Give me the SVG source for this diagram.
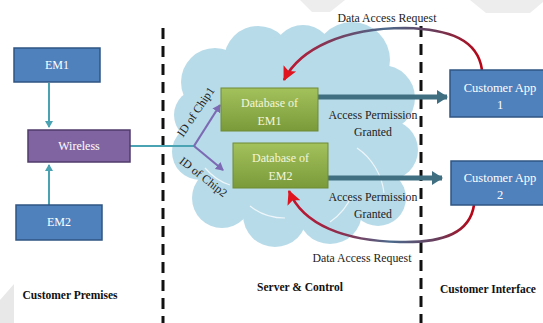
<svg xmlns="http://www.w3.org/2000/svg" width="543" height="323" viewBox="0 0 543 323">
<defs>
<style>
.box{stroke-width:1.5}
.em{fill:#4f81bd;stroke:#2f5584}
.wl{fill:#8064a2;stroke:#4f3b6b}
.db{fill:url(#gGreen);stroke:#6f8a35;stroke-width:1}
.app{fill:#4f81bd;stroke:#2f5584}
.wt{font-family:"Liberation Serif","Times New Roman",serif;font-size:12px;fill:#ffffff;text-anchor:middle}
.dbt{font-family:"Liberation Serif","Times New Roman",serif;font-size:12px;fill:#f4f6dc;text-anchor:middle}
.lbl{font-family:"Liberation Serif","Times New Roman",serif;font-size:11.8px;fill:#222;text-anchor:middle}
.sec{font-family:"Liberation Serif","Times New Roman",serif;font-size:11.5px;font-weight:bold;fill:#111;text-anchor:middle}
.dash{stroke:#111;stroke-width:3;stroke-dasharray:11 7;fill:none}
.teal{stroke:#4aa3b3;stroke-width:2;fill:none}
.purp{stroke:#7c6bb4;stroke-width:2.2;fill:none}
.acc{stroke:#3f6f80;stroke-width:5;fill:none}
.req{stroke-width:2.6;fill:none}
</style>
<linearGradient id="gGreen" x1="0" y1="0" x2="0" y2="1">
<stop offset="0" stop-color="#a3c25c"/>
<stop offset="1" stop-color="#7a9a3a"/>
</linearGradient>
<linearGradient id="gTop" gradientUnits="userSpaceOnUse" x1="283" y1="0" x2="485" y2="0">
<stop offset="0" stop-color="#c8102a"/>
<stop offset="0.25" stop-color="#7a3c5c"/>
<stop offset="0.5" stop-color="#4a6a8c"/>
<stop offset="0.75" stop-color="#6a3c5a"/>
<stop offset="1" stop-color="#c00010"/>
</linearGradient>
<linearGradient id="gBot" gradientUnits="userSpaceOnUse" x1="287" y1="0" x2="476" y2="0">
<stop offset="0" stop-color="#c8102a"/>
<stop offset="0.3" stop-color="#8a3050"/>
<stop offset="0.55" stop-color="#4a6a8c"/>
<stop offset="0.8" stop-color="#6a3c5a"/>
<stop offset="1" stop-color="#c00010"/>
</linearGradient>
<marker id="mTeal" markerWidth="8" markerHeight="8" refX="6" refY="4" orient="auto" markerUnits="userSpaceOnUse">
<path d="M0,0 L7,4 L0,8 Z" fill="#4aa3b3"/>
</marker>
<marker id="mPurp" markerWidth="9" markerHeight="9" refX="7" refY="4.5" orient="auto" markerUnits="userSpaceOnUse">
<path d="M0,0 L8,4.5 L0,9 Z" fill="#7c6bb4"/>
</marker>
<marker id="mAcc" markerWidth="12" markerHeight="14" refX="10" refY="7" orient="auto" markerUnits="userSpaceOnUse">
<path d="M0,0 L11,7 L0,14 Z" fill="#3f6f80"/>
</marker>
<marker id="mRed" markerWidth="16" markerHeight="16" refX="13" refY="8" orient="auto" markerUnits="userSpaceOnUse">
<path d="M0,1 L14,8 L0,15 L3,8 Z" fill="#e0141e"/>
</marker>
</defs>

<rect width="543" height="323" fill="#ffffff"/>
<!-- faint watermark shapes -->
<polygon points="300,0 345,0 330,12 312,12" fill="#ededed"/>
<polygon points="470,0 543,0 543,2 530,13 486,13" fill="#ededed"/>
<polygon points="0,300 14,284 14,323 0,323" fill="#e8e8e8"/>

<!-- cloud -->
<g id="cloud" fill="#b8dbe9">
<circle cx="215" cy="82" r="34"/>
<circle cx="258" cy="60" r="34"/>
<circle cx="303" cy="55" r="30"/>
<circle cx="352" cy="60" r="38"/>
<circle cx="382" cy="98" r="33"/>
<circle cx="388" cy="150" r="30"/>
<circle cx="378" cy="198" r="28"/>
<circle cx="330" cy="212" r="32"/>
<circle cx="275" cy="215" r="32"/>
<circle cx="222" cy="198" r="30"/>
<circle cx="200" cy="152" r="28"/>
<circle cx="200" cy="115" r="26"/>
<ellipse cx="295" cy="140" rx="100" ry="80"/>
</g>
<g id="cloud-lines" fill="none" stroke="#ffffff" stroke-opacity="0.75" stroke-width="1.2">
<path d="M357,148 C372,158 382,175 384,193"/>
<path d="M330,222 C340,215 348,205 352,195"/>
<path d="M250,206 C260,214 272,218 285,218"/>
<path d="M205,168 C212,176 220,182 230,185"/>
</g>

<!-- dashed separators -->
<line class="dash" x1="163" y1="28" x2="163" y2="323"/>
<line class="dash" x1="421" y1="26" x2="421" y2="323"/>

<!-- connectors -->
<g id="connectors">
<line class="teal" x1="49" y1="83" x2="49" y2="127" marker-end="url(#mTeal)"/>
<line class="teal" x1="49" y1="205" x2="49" y2="165" marker-end="url(#mTeal)"/>
<line class="teal" x1="130" y1="146" x2="194" y2="146"/>
<line class="purp" x1="194" y1="146" x2="220" y2="105" marker-end="url(#mPurp)"/>
<line class="purp" x1="194" y1="146" x2="223" y2="170" marker-end="url(#mPurp)"/>
<line class="acc" x1="318" y1="97" x2="447" y2="97" marker-end="url(#mAcc)"/>
<line class="acc" x1="328" y1="178" x2="442" y2="178" marker-end="url(#mAcc)"/>
<path class="req" stroke="url(#gTop)" d="M482,70 C478,40 450,29 405,28 C345,28 300,48 284,80" marker-end="url(#mRed)"/>
<path class="req" stroke="url(#gBot)" d="M474,205 C470,232 445,243 400,242 C345,241 303,225 289,191" marker-end="url(#mRed)"/>
</g>

<!-- nodes -->
<g id="em1"><rect class="box em" x="14" y="48" width="86" height="34"/><text class="wt" x="57" y="69">EM1</text></g>
<g id="wireless"><rect class="box wl" x="28" y="130" width="102" height="32"/><text class="wt" x="79" y="150">Wireless</text></g>
<g id="em2"><rect class="box em" x="16" y="205" width="86" height="35"/><text class="wt" x="59" y="226">EM2</text></g>
<g id="db1"><rect class="db" x="221" y="88" width="97" height="43"/><text class="dbt" x="269.5" y="107">Database of</text><text class="dbt" x="269.5" y="125">EM1</text></g>
<g id="db2"><rect class="db" x="233" y="143" width="95" height="45"/><text class="dbt" x="280.5" y="162">Database of</text><text class="dbt" x="280.5" y="180">EM2</text></g>
<g id="app1"><rect class="box app" x="450" y="70" width="96" height="47"/><text class="wt" x="500" y="92" style="font-size:12.5px">Customer App</text><text class="wt" x="500" y="109" style="font-size:12.5px">1</text></g>
<g id="app2"><rect class="box app" x="451" y="161" width="95" height="44"/><text class="wt" x="500" y="182" style="font-size:12.5px">Customer App</text><text class="wt" x="500" y="199" style="font-size:12.5px">2</text></g>

<!-- labels -->
<g id="labels">
<text class="lbl" x="387" y="22">Data Access Request</text>
<text class="lbl" x="373" y="119">Access Permission</text>
<text class="lbl" x="373" y="136">Granted</text>
<text class="lbl" x="373" y="201">Access Permission</text>
<text class="lbl" x="373" y="218">Granted</text>
<text class="lbl" x="362" y="262">Data Access Request</text>
<text class="lbl" transform="translate(199,114) rotate(-56)">ID of Chip1</text>
<text class="lbl" transform="translate(201,180) rotate(38)">ID of Chip2</text>
<text class="sec" x="70" y="299">Customer Premises</text>
<text class="sec" x="300" y="291">Server &amp; Control</text>
<text class="sec" x="488" y="293">Customer Interface</text>
</g>
</svg>
